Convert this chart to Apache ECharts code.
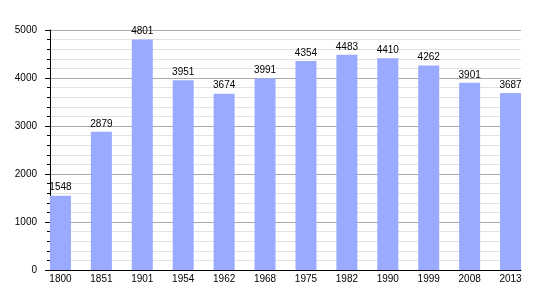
<!DOCTYPE html>
<html><head><meta charset="utf-8">
<script src="https://cdn.jsdelivr.net/npm/echarts@6/dist/echarts.min.js"></script>
<style>html,body{margin:0;padding:0;background:#fff}#c{width:550px;height:300px}</style>
</head><body><div id="c"></div>
<script>
var categories = ['1800','1851','1901','1954','1962','1968','1975','1982','1990','1999','2008','2013'];
var population = [1548, 2879, 4801, 3951, 3674, 3991, 4354, 4483, 4410, 4262, 3901, 3687];
var yMin = 0, yMax = 5000, yStep = 1000;

var font = 'Liberation Sans, Arial, sans-serif';
var chart = echarts.init(document.getElementById('c'), null, {renderer: 'canvas'});
chart.setOption({
  animation: false,
  grid: [
    {left: 40, right: 19, top: 30, bottom: 30},
    {left: 50, right: 29, top: 30, bottom: 30}
  ],
  xAxis: [
    {gridIndex: 0, type: 'category', data: categories, boundaryGap: true,
     axisLine: {show: false}, axisTick: {show: false},
     axisLabel: {margin: 4, color: '#000', fontSize: 10, fontFamily: font}},
    {gridIndex: 1, type: 'category', data: categories,
     axisLine: {show: true, lineStyle: {color: '#000', width: 1}},
     axisTick: {show: false}, axisLabel: {show: false}}
  ],
  yAxis: [
    {gridIndex: 0, type: 'value', min: yMin, max: yMax, interval: yStep, show: false},
    {gridIndex: 1, type: 'value', min: yMin, max: yMax, interval: yStep,
     axisLine: {show: true, lineStyle: {color: '#000', width: 1}},
     axisTick: {show: true, length: 5, lineStyle: {color: '#000'}},
     minorTick: {show: true, splitNumber: 5, length: 3, lineStyle: {color: '#000'}},
     axisLabel: {margin: 13, color: '#000', fontSize: 10, fontFamily: font,
                 formatter: function (v) { return String(v); }},
     splitLine: {show: true, lineStyle: {color: '#aaaaaa', width: 1}},
     minorSplitLine: {show: true, lineStyle: {color: '#e2e2e2', width: 1}}}
  ],
  series: [{
    type: 'bar', xAxisIndex: 0, yAxisIndex: 0, data: population,
    barWidth: 21,
    itemStyle: {color: '#99aaff'},
    label: {show: true, position: 'top', distance: 3, color: '#000', fontSize: 10, fontFamily: font}
  }]
});
</script></body></html>
